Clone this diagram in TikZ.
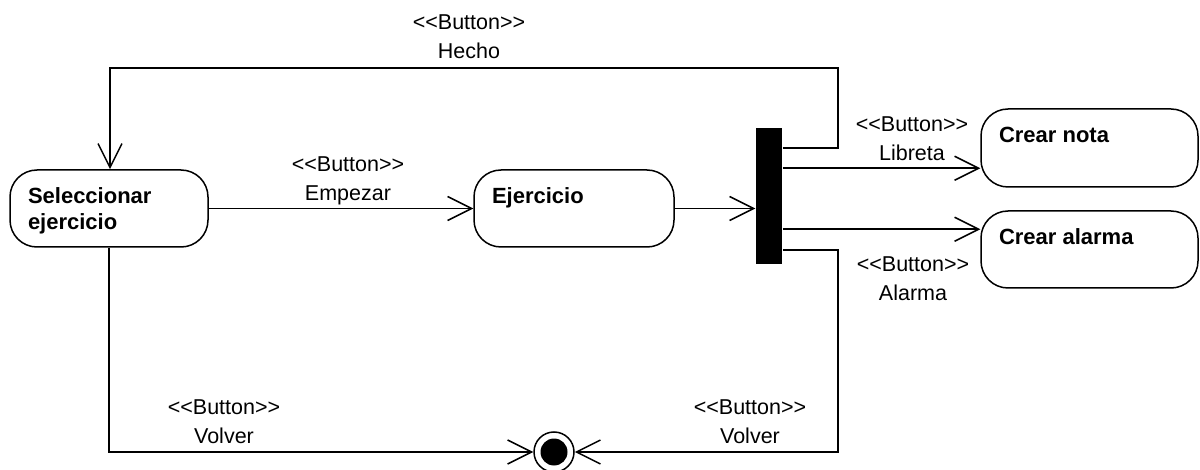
\documentclass[tikz,border=0pt]{standalone}
\usepackage{fontspec}
\setmainfont{Liberation Sans}
\usetikzlibrary{arrows.meta,calc}
\newcommand\stereo[1]{<\kern0pt<#1>\kern0pt>}
\begin{document}
\begin{tikzpicture}[x=1pt,y=-1pt,line width=1.5pt,
  act/.style={draw,rounded corners=27pt,inner xsep=18pt,inner ysep=18pt,
    font=\fontsize{22}{26}\selectfont\bfseries},
  lbl/.style={align=center,inner sep=0pt,font=\fontsize{21.5}{29}\selectfont,anchor=base},
  arr/.style={-{Straight Barb[length=24pt,width=24pt]}},
  forkbar/.style={fill=black,draw=none,inner sep=0pt,minimum width=26pt,minimum height=136pt},
  finalout/.style={circle,draw,inner sep=0pt,minimum size=40pt},
  finalin/.style={circle,fill=black,inner sep=0pt,minimum size=27pt}]
\useasboundingbox (0,0) rectangle (1200,470);

% activity nodes
\node[act] (sel) at (109,208.5) {\parbox[c][41pt][t]{162pt}{Seleccionar\\ejercicio}};
\node[act] (ej) at (574,208.5) {\parbox[c][41pt][t]{164pt}{Ejercicio}};
\node[act] (nota) at (1089.5,148) {\parbox[c][42pt][t]{181pt}{Crear nota}};
\node[act] (alarma) at (1089.5,249.5) {\parbox[c][41pt][t]{181pt}{Crear alarma}};
\node[forkbar] (bar) at (769,196) {};
\node[finalout] (final) at (554,452) {};
\node[finalin] (finaldot) at (final.center) {};

% helper coordinates
\coordinate (b1) at ($(bar.north east)+(0,21)$);
\coordinate (b2) at ($(bar.north east)+(0,41)$);
\coordinate (b3) at ($(bar.north east)+(0,102)$);
\coordinate (b4) at ($(bar.north east)+(0,123)$);
\coordinate (tr) at (838,68);
\coordinate (tl) at (110,68);
\coordinate (br) at (838,452);

% connectors
\draw[arr] (sel.east) -- (ej.west);
\draw[arr] (ej.east) -- (ej.east -| bar.west);
\draw[arr] (b1) -| (tr) -- (tl) -- (tl |- sel.north);
\draw[arr] (b2) -- (b2 -| nota.west);
\draw[arr] (b3) -- (b3 -| alarma.west);
\draw[arr] (b4) -| (br) -- (final.east);
\draw[arr] (sel.south) -- (sel.south |- final.west) -- (final.west);

% labels (anchor = baseline of second line)
\node[lbl] (lhecho) at (469,59) {\stereo{Button}\\Hecho};
\node[lbl] (lempezar) at (348,201) {\stereo{Button}\\Empezar};
\node[lbl] (llibreta) at (912,161) {\stereo{Button}\\Libreta};
\node[lbl] (lalarma) at (913,301) {\stereo{Button}\\Alarma};
\node[lbl] (lvolver1) at (224,443) {\stereo{Button}\\Volver};
\node[lbl] (lvolver2) at (750,443) {\stereo{Button}\\Volver};
\end{tikzpicture}
\end{document}
